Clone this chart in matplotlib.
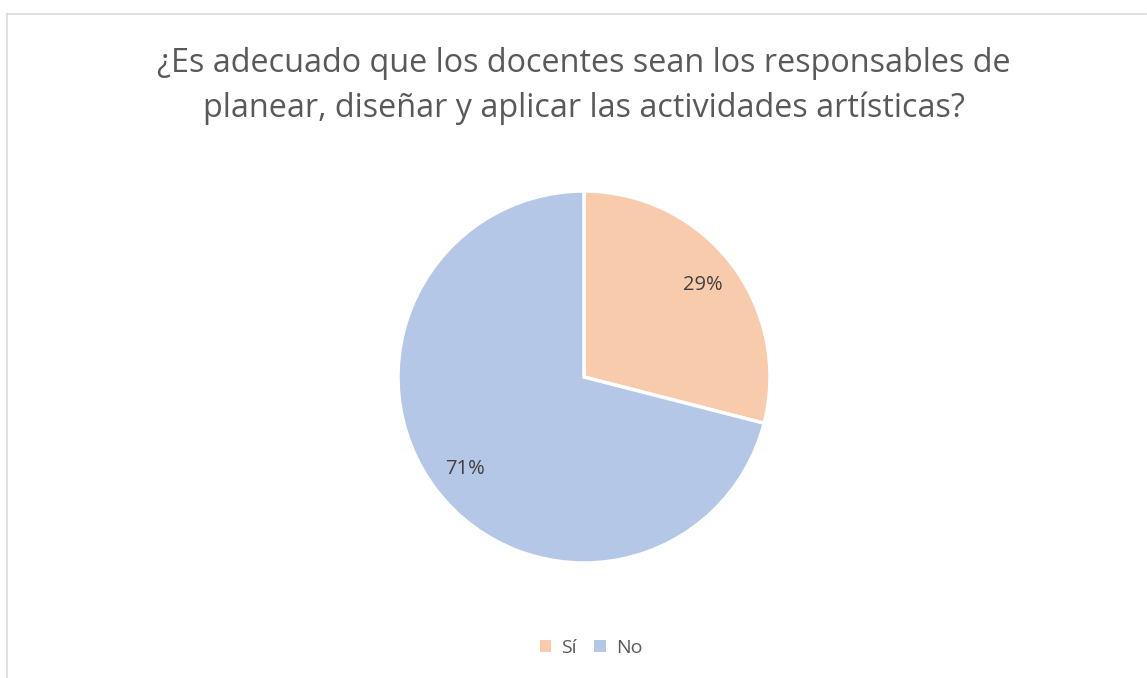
import matplotlib
matplotlib.use("Agg")
import matplotlib.pyplot as plt
from matplotlib.lines import Line2D
from matplotlib.patches import Patch

categories = ["Sí", "No"]
values = [29, 71]
colors = ["#F8CBAD", "#B4C7E7"]
title_lines = ["¿Es adecuado que los docentes sean los responsables de",
               "planear, diseñar y aplicar las actividades artísticas?"]

W, H = 1147, 678
fig = plt.figure(figsize=(W / 100, H / 100), dpi=100)
fig.patch.set_facecolor("white")
plt.rcParams['font.family'] = ['Open Sans', 'DejaVu Sans']

# chart border (top, left)
fig.add_artist(Line2D([7.5 / W, 1145.5 / W], [1 - 14 / H, 1 - 14 / H], color="#D9D9D9", lw=1.2))
fig.add_artist(Line2D([7.5 / W, 7.5 / W], [0, 1 - 14 / H], color="#D9D9D9", lw=1.2))

cx, cy, r = 584, 377, 186
ax = fig.add_axes([(cx - r) / W, (H - cy - r) / H, 2 * r / W, 2 * r / H])
ax.pie(values, colors=colors, startangle=90, counterclock=False,
       autopct=lambda p: f"{p:.0f}%", pctdistance=0.81,
       wedgeprops=dict(edgecolor="white", linewidth=2.5),
       textprops=dict(color="#404040", fontsize=14.5))
ax.set_xlim(-1, 1)
ax.set_ylim(-1, 1)
ax.set_aspect("equal")
ax.axis("off")

for line, y in zip(title_lines, [63, 108]):
    fig.text(584 / W, 1 - y / H, line, ha="center", va="center", fontsize=23.3,
             color="#595959")

handles = [Patch(facecolor=c, edgecolor="none") for c in colors]
fig.legend(handles, categories, loc="center", bbox_to_anchor=(591 / W, 1 - 648 / H),
           ncol=2, frameon=False, fontsize=14, handlelength=0.6, handleheight=0.6,
           handletextpad=0.5, columnspacing=0.9, labelcolor="#595959")

fig.savefig("out.png", dpi=100, facecolor="white")
